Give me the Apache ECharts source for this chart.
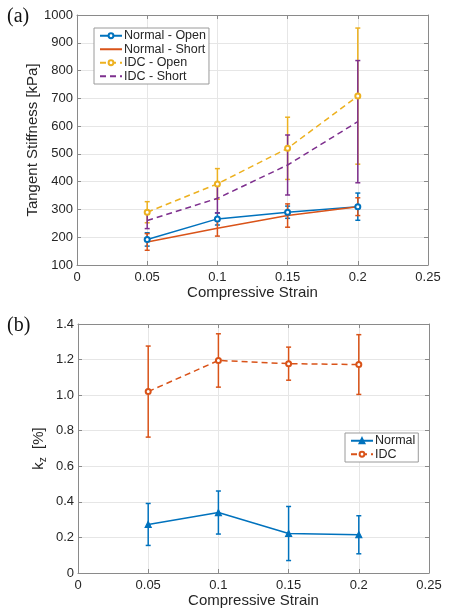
<!DOCTYPE html>
<html>
<head>
<meta charset="utf-8">
<script src="https://cdn.jsdelivr.net/npm/echarts@6/dist/echarts.min.js"></script>
<style>
html,body{margin:0;padding:0;background:#fff;}
#c{width:451px;height:616px;}
</style>
</head>
<body>
<div id="c"></div>
<script>
// ---- Data ----
const strain = [0.05, 0.1, 0.15, 0.2];
const xTicks = [0, 0.05, 0.1, 0.15, 0.2, 0.25];

// Panel (a): tangent stiffness [kPa]
const normalOpen = [192, 266, 290, 310];
const normalOpenErr = [24, 22, 22, 49];
const normalShort = [183, 232, 278, 310];
const normalShortErr = [30, 28, 42, 32];
const idcOpen = [290, 392, 520, 708];
const idcOpenErr = [38, 55, 112, 245];
const idcShort = [260, 340, 460, 616];
const idcShortErr = [29, 53, 108, 220];

// Panel (b): k_z [%]
const normalKz = [0.273, 0.34, 0.222, 0.215];
const normalKzErr = [0.118, 0.121, 0.152, 0.107];
const idcKz = [1.02, 1.195, 1.177, 1.172];
const idcKzErr = [0.256, 0.15, 0.093, 0.168];

const C_BLUE = '#0072BD', C_RED = '#D95319', C_YEL = '#EDB120', C_PUR = '#7E2F8E';
const FONT = 'Liberation Sans, Arial, Helvetica, sans-serif';
const TXT = '#262626';
const AX = '#8a8a8a';
const GRIDC = '#e6e6e6';

function pts(vals) { return strain.map((x, i) => [x, vals[i]]); }
function errPts(vals, errs) { return strain.map((x, i) => [x, vals[i], vals[i] - errs[i], vals[i] + errs[i]]); }

function errSeries(name, vals, errs, color, xi, yi) {
  return {
    name: name, type: 'custom', xAxisIndex: xi, yAxisIndex: yi,
    data: errPts(vals, errs),
    encode: { x: 0, y: [2, 3] },
    silent: true,
    renderItem: function (params, api) {
      const x = api.value(0), lo = api.value(2), hi = api.value(3);
      const t = api.coord([x, hi]), b = api.coord([x, lo]);
      const w = 2.5;
      const st = { stroke: color, lineWidth: 1.5, fill: null };
      return {
        type: 'group', children: [
          { type: 'line', shape: { x1: t[0], y1: t[1], x2: b[0], y2: b[1] }, style: st },
          { type: 'line', shape: { x1: t[0] - w, y1: t[1], x2: t[0] + w, y2: t[1] }, style: st },
          { type: 'line', shape: { x1: b[0] - w, y1: b[1], x2: b[0] + w, y2: b[1] }, style: st }
        ]
      };
    }
  };
}
function lineSeries(name, vals, color, dashed, symbol, size, xi, yi) {
  return {
    name: name, type: 'line', xAxisIndex: xi, yAxisIndex: yi,
    data: pts(vals),
    symbol: symbol, symbolSize: size, showSymbol: symbol !== 'none',
    lineStyle: { color: color, width: 1.5, type: dashed ? [6, 4] : 'solid' },
    itemStyle: { color: color, borderColor: color, borderWidth: 1.2 },
    emphasis: { disabled: true },
    animation: false
  };
}

function xAx(gi, pos, main) {
  return {
    gridIndex: gi, type: 'value', position: pos, min: 0, max: 0.25, interval: 0.05,
    axisLine: { show: true, onZero: false, lineStyle: { color: AX, width: 1 } },
    axisTick: { show: true, inside: true, length: 4, lineStyle: { color: AX } },
    axisLabel: { show: main, color: TXT, fontSize: 13, fontFamily: FONT, margin: 6,
      formatter: v => v === 0 ? '0' : String(+v.toFixed(2)) },
    splitLine: { show: main, lineStyle: { color: GRIDC, width: 1 } },
    name: main ? 'Compressive Strain' : '', nameLocation: 'middle', nameGap: 20,
    nameMoveOverlap: false,
    nameTextStyle: { color: TXT, fontSize: 15, fontFamily: FONT }
  };
}
function yAx(gi, pos, main, min, max, interval, fmt, name, nameTS, gap) {
  return {
    gridIndex: gi, type: 'value', position: pos, min: min, max: max, interval: interval,
    axisLine: { show: true, onZero: false, lineStyle: { color: AX, width: 1 } },
    axisTick: { show: true, inside: true, length: 4, lineStyle: { color: AX } },
    axisLabel: { show: main, color: TXT, fontSize: 13, fontFamily: FONT, margin: 4, formatter: fmt },
    splitLine: { show: main, lineStyle: { color: GRIDC, width: 1 } },
    name: main ? name : '', nameLocation: 'middle', nameGap: gap || 30,
    nameMoveOverlap: false,
    nameTextStyle: nameTS
  };
}

function legendCfg(left, top, items) {
  return {
    left: left, top: top, orient: 'vertical', itemWidth: 22, itemHeight: 6, itemGap: 0,
    padding: [1, 3, 1, 5], borderColor: '#9a9a9a', borderWidth: 1, backgroundColor: '#fff',
    textStyle: { color: TXT, fontSize: 12.5, fontFamily: FONT, lineHeight: 13.5, padding: [0, 0, 0, -3] },
    data: items,
    selectedMode: false
  };
}

const chart = echarts.init(document.getElementById('c'), null, { renderer: 'canvas' });
const option = {
  animation: false,
  backgroundColor: '#fff',
  grid: [
    { left: 77, right: 23, top: 15, height: 250, containLabel: false },
    { left: 78, right: 22, top: 324, height: 249, containLabel: false }
  ],
  xAxis: [xAx(0, 'bottom', true), xAx(0, 'top', false), xAx(1, 'bottom', true), xAx(1, 'top', false)],
  yAxis: [
    yAx(0, 'left', true, 100, 1000, 100, v => String(v), 'Tangent Stiffness [kPa]',
      { color: TXT, fontSize: 15, fontFamily: FONT }, 37),
    yAx(0, 'right', false, 100, 1000, 100, v => String(v), '', {}),
    yAx(1, 'left', true, 0, 1.4, 0.2, v => v === 0 ? '0' : v.toFixed(1), 'k{sub|z}  [%]',
      { color: TXT, fontSize: 15, fontFamily: FONT,
        rich: { sub: { fontSize: 10, fontFamily: FONT, color: TXT, verticalAlign: 'bottom', padding: [8, 0, 0, 0] } } }, 30),
    yAx(1, 'right', false, 0, 1.4, 0.2, v => '', '', {})
  ],
  legend: [
    legendCfg(94, 28, [
      { name: 'Normal - Open' },
      { name: 'Normal - Short', itemStyle: { opacity: 0 } },
      { name: 'IDC - Open' },
      { name: 'IDC - Short', itemStyle: { opacity: 0 } }
    ]),
    legendCfg(345, 433, [{ name: 'Normal' }, { name: 'IDC' }])
  ],
  graphic: [
    { type: 'text', left: 7, top: 7, style: { text: '(a)', font: '20px "Liberation Serif", "Times New Roman", serif', fill: '#111' } },
    { type: 'text', left: 7, top: 316, style: { text: '(b)', font: '20px "Liberation Serif", "Times New Roman", serif', fill: '#111' } }
  ],
  series: [
    errSeries('eNO', normalOpen, normalOpenErr, C_BLUE, 0, 0),
    lineSeries('Normal - Open', normalOpen, C_BLUE, false, 'emptyCircle', 5, 0, 0),
    errSeries('eNS', normalShort, normalShortErr, C_RED, 0, 0),
    lineSeries('Normal - Short', normalShort, C_RED, false, 'none', 0, 0, 0),
    errSeries('eIO', idcOpen, idcOpenErr, C_YEL, 0, 0),
    lineSeries('IDC - Open', idcOpen, C_YEL, true, 'emptyCircle', 5, 0, 0),
    errSeries('eIS', idcShort, idcShortErr, C_PUR, 0, 0),
    lineSeries('IDC - Short', idcShort, C_PUR, true, 'none', 0, 0, 0),

    errSeries('eN', normalKz, normalKzErr, C_BLUE, 2, 2),
    lineSeries('Normal', normalKz, C_BLUE, false, 'triangle', 6, 2, 2),
    errSeries('eI', idcKz, idcKzErr, C_RED, 2, 2),
    lineSeries('IDC', idcKz, C_RED, true, 'emptyCircle', 5, 2, 2)
  ]
};
chart.setOption(option);
</script>
</body>
</html>
